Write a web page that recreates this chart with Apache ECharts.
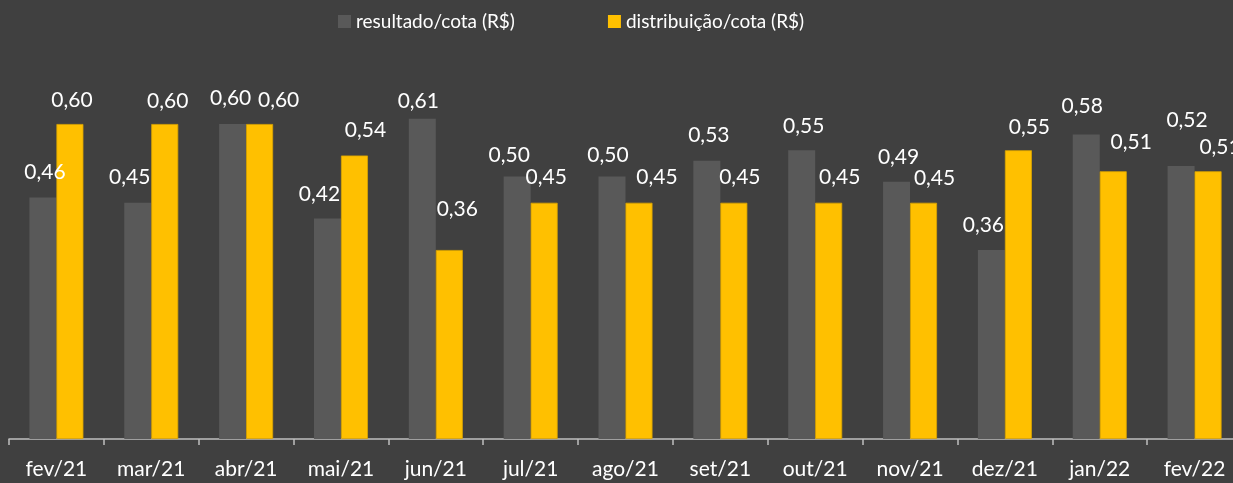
<!DOCTYPE html>
<html><head><meta charset="utf-8">
<script src="https://cdn.jsdelivr.net/npm/echarts@6/dist/echarts.min.js"></script>
<style>html,body{margin:0;padding:0;background:#404040;overflow:hidden;width:1233px;height:483px;}#c{width:1242px;height:483px;}</style>
</head><body><div id="c"></div>
<script>
const categories = ['fev/21','mar/21','abr/21','mai/21','jun/21','jul/21','ago/21','set/21','out/21','nov/21','dez/21','jan/22','fev/22'];
const resultado = [0.46,0.45,0.60,0.42,0.61,0.50,0.50,0.53,0.55,0.49,0.36,0.58,0.52];
const distribuicao = [0.60,0.60,0.60,0.54,0.36,0.45,0.45,0.45,0.45,0.45,0.55,0.51,0.51];
const seriesNames = ['resultado/cota (R$)','distribuição/cota (R$)'];
// manual label nudges (as in the source chart)
const resLabelShift = [[2,-1],[-8,-1],[-2,-1],[-8,0],[-4,7],[-8,3],[-4,3],[2,-1],[2,0],[2,0],[-8,0],[-4,-4],[6,-21]];
const disLabelShift = [[2,1],[3,2],[19,1],[11,-1],[8,-16],[2,-1],[18,-1],[6,-1],[11,-1],[11,0],[11,1],[18,-5],[12,0]];

const FONT = 'Lato';
const fmt = p => p.value.toFixed(2).replace('.', ',');
function mk(vals, shifts){
  return vals.map((v,i)=>({value:v, label:{offset:shifts[i]}}));
}
const chart = echarts.init(document.getElementById('c'), null, {renderer:'canvas'});
chart.setOption({
  backgroundColor:'#404040',
  animation:false,
  textStyle:{fontFamily:FONT},
  legend:{
    left:333, top:7, itemWidth:13, itemHeight:13, itemGap:93,
    icon:'rect',
    itemStyle:{borderWidth:0},
    textStyle:{color:'#ffffff', fontSize:19, fontFamily:FONT}
  },
  grid:{left:9, right:0, top:19, bottom:44, containLabel:false},
  xAxis:{
    type:'category', data:categories,
    axisLine:{lineStyle:{color:'#bfbfbf', width:1.5}},
    axisTick:{show:true, length:6, lineStyle:{color:'#bfbfbf', width:1.5}},
    axisLabel:{color:'#ffffff', fontSize:21, margin:20, fontFamily:FONT}
  },
  yAxis:{type:'value', min:0, max:0.8, show:false, splitLine:{show:false}},
  series:[
    {name:seriesNames[0], type:'bar', data:mk(resultado,resLabelShift), barWidth:27, barGap:'0%',
     itemStyle:{color:'#595959'},
     label:{show:true, position:'top', distance:14, color:'#ffffff', fontSize:21, fontFamily:FONT, formatter:fmt}},
    {name:seriesNames[1], type:'bar', data:mk(distribuicao,disLabelShift), barWidth:27,
     itemStyle:{color:'#ffc000', borderColor:'#d9a300', borderWidth:0.8},
     label:{show:true, position:'top', distance:14, color:'#ffffff', fontSize:21, fontFamily:FONT, formatter:fmt}}
  ]
});
</script></body></html>
